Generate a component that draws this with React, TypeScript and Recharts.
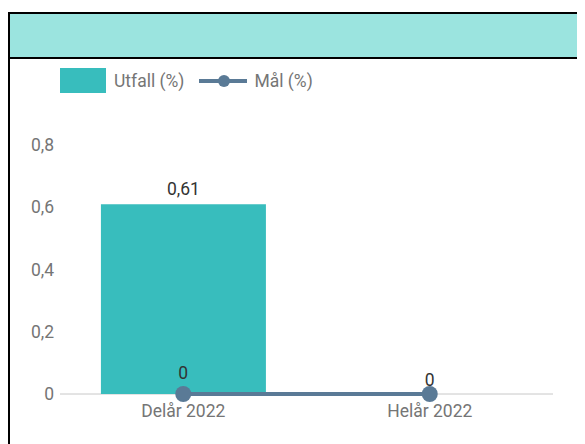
import React from "react"
import { Bar, CartesianGrid, ComposedChart, LabelList, Line, XAxis, YAxis } from "recharts"

// periods and values
const periods = ["Delår 2022", "Helår 2022"]
const outcome = [0.61, 0]
const goal = [0, 0]
const yTicks = [0, 0.2, 0.4, 0.6, 0.8]

const BAR_COLOR = "#38bdbd"
const LINE_COLOR = "#5a7a96"
const FONT = 17.5

const data = periods.map((name, i) => ({ name, outcome: outcome[i], goal: goal[i] }))

const fmt = (v: number) => String(v).replace(".", ",")

// goal label: where it coincides with the bar label, draw it once at the bar label spot
const GoalLabel = (props: any) => {
  const { x, y, value, index } = props
  const merged = index != null && outcome[index] === goal[index]
  return (
    <text x={x} y={y - (merged ? 8 : 15)} textAnchor="middle" fill="#333" fontSize={FONT}>
      {fmt(value)}
    </text>
  )
}

function ChartLegend() {
  return (
    <div
      style={{
        position: "absolute",
        top: 9,
        left: 50,
        display: "flex",
        alignItems: "center",
        fontSize: FONT,
        color: "#757575",
      }}
    >
      <span style={{ width: 46, height: 25, background: BAR_COLOR, display: "inline-block" }} />
      <span style={{ marginLeft: 8 }}>Utfall (%)</span>
      <svg width={48} height={14} style={{ marginLeft: 15 }}>
        <line x1={0} y1={7} x2={48} y2={7} stroke={LINE_COLOR} strokeWidth={4} />
        <circle cx={25} cy={7} r={6} fill={LINE_COLOR} />
      </svg>
      <span style={{ marginLeft: 7 }}>Mål (%)</span>
    </div>
  )
}

export default function App() {
  return (
    <div
      style={{
        marginTop: 4,
        width: 620,
        height: 440,
        border: "2px solid #000",
        fontFamily: "Roboto, sans-serif",
      }}
    >
      <div style={{ height: 43, background: "#9be4df", borderBottom: "2px solid #000" }} />
      <div style={{ position: "relative" }}>
        <ChartLegend />
        <ComposedChart
          width={575}
          height={385}
          data={data}
          margin={{ top: 86, right: 32, left: 0, bottom: 20 }}
          barCategoryGap="16.6%"
        >
          {/* baseline drawn as a grid line so the series sits on top of it */}
          <CartesianGrid vertical={false} horizontalValues={[0]} stroke="#c8c8c8" />
          <XAxis
            dataKey="name"
            axisLine={false}
            tickLine={false}
            tickMargin={5}
            tick={{ fill: "#757575", fontSize: FONT }}
          />
          <YAxis
            width={50}
            domain={[0, 0.8]}
            ticks={yTicks}
            axisLine={false}
            tickLine={false}
            tickMargin={0}
            tickFormatter={fmt}
            tick={{ fill: "#757575", fontSize: FONT }}
          />
          <Bar dataKey="outcome" name="Utfall (%)" fill={BAR_COLOR} isAnimationActive={false}>
            <LabelList
              dataKey="outcome"
              position="top"
              offset={9}
              fill="#333"
              fontSize={FONT}
              formatter={(v: any) => (v ? fmt(v) : "")}
            />
          </Bar>
          <Line
            dataKey="goal"
            name="Mål (%)"
            type="linear"
            stroke={LINE_COLOR}
            strokeWidth={4}
            dot={{ r: 8, fill: LINE_COLOR, stroke: "none" }}
            isAnimationActive={false}
          >
            <LabelList dataKey="goal" content={GoalLabel} />
          </Line>
        </ComposedChart>
      </div>
    </div>
  )
}
